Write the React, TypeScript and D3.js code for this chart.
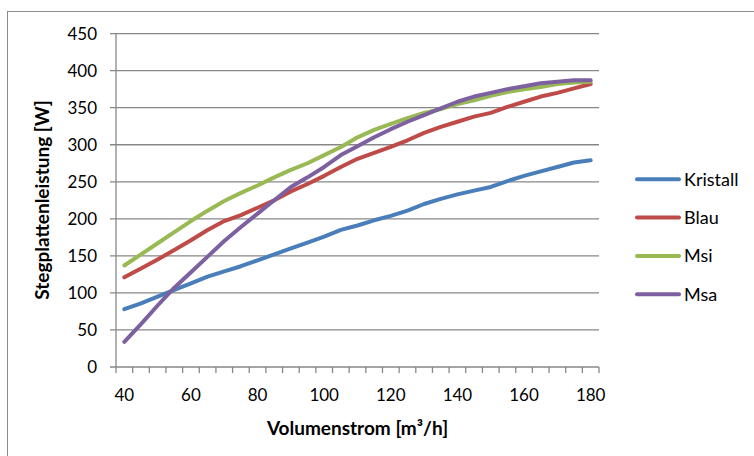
import React from "react";
import * as d3 from "d3";

const categories = [40,45,50,55,60,65,70,75,80,85,90,95,100,105,110,115,120,125,130,135,140,145,150,155,160,165,170,175,180];
const kristall = [78,86,95,104,113,122,129,136,144,152,160,168,176,185,191,198,204,211,220,227,233,238,243,251,258,264,270,276,279];
const blau = [121,133,145,158,171,185,197,205,215,225,237,247,258,270,281,289,297,306,316,324,331,338,343,351,358,365,370,376,382];
const msi = [137,152,167,182,197,211,224,235,245,256,266,275,286,297,310,320,328,336,343,348,355,360,366,371,375,378,382,384,385];
const msa = [34,58,83,107,128,149,170,189,207,225,243,256,270,286,298,310,321,331,340,349,358,365,370,375,379,383,385,387,387];
const yTicks = [0,50,100,150,200,250,300,350,400,450];
const xLabels = [40,60,80,100,120,140,160,180];
const seriesNames = ["Kristall","Blau","Msi","Msa"];
const seriesColors = ["#4A7EBB","#BE4B48","#98B954","#7D60A0"];
const seriesData = [kristall, blau, msi, msa];

const W = 754, H = 456;
const FONT = "Lato, 'Open Sans', sans-serif";

export default function App() {
  const x = d3.scaleBand<number>().domain(categories).range([116, 599]).paddingInner(0).paddingOuter(0);
  const y = d3.scaleLinear().domain([0, 450]).range([367, 33.6]);
  const cx = (c: number) => (x(c) as number) + x.bandwidth() / 2;
  const line = d3.line<number>().x((_, i) => cx(categories[i])).y((v) => y(v));
  const grid = "#878787";
  const boundaries = categories.map((c) => x(c) as number).concat([599]);
  return (
    <svg width={W} height={H} style={{ position: "absolute", left: 0, top: 0, display: "block", background: "#fff" }}>
      <rect x={7.5} y={11.5} width={W + 20} height={H + 20} fill="#fff" stroke="#8c8c8c" strokeWidth={1} />
      {yTicks.map((t) => (
        <g key={t}>
          <line x1={110} x2={599} y1={y(t)} y2={y(t)} stroke={grid} strokeWidth={1.3} />
          <text x={97} y={y(t)} dy="0.35em" textAnchor="end" fontFamily={FONT} fontSize={17} fill="#000">{t}</text>
        </g>
      ))}
      <line x1={116} x2={116} y1={y(450)} y2={y(0)} stroke={grid} strokeWidth={1.3} />
      {boundaries.map((b, i) => (
        <line key={i} x1={b} x2={b} y1={y(0)} y2={y(0) + 6} stroke={grid} strokeWidth={1.3} />
      ))}
      {xLabels.map((c) => (
        <text key={c} x={cx(c)} y={395} dy="0.35em" textAnchor="middle" fontFamily={FONT} fontSize={17} fill="#000">{c}</text>
      ))}
      {seriesData.map((s, i) => (
        <path key={i} d={line(s) || ""} fill="none" stroke={seriesColors[i]} strokeWidth={4} strokeLinecap="round" strokeLinejoin="round" />
      ))}
      <text x={357.5} y={428} dy="0.35em" textAnchor="middle" fontFamily={FONT} fontSize={19} fontWeight="bold" fill="#000">Volumenstrom [m³/h]</text>
      <text transform={`translate(42,200) rotate(-90)`} textAnchor="middle" dy="0.35em" fontFamily={FONT} fontSize={19} fontWeight="bold" fill="#000">Stegplattenleistung [W]</text>
      {seriesNames.map((n, i) => {
        const ly = 179.3 + i * 38.3;
        return (
          <g key={n}>
            <line x1={637} x2={679} y1={ly} y2={ly} stroke={seriesColors[i]} strokeWidth={4} strokeLinecap="round" />
            <text x={684} y={ly} dy="0.35em" fontFamily={FONT} fontSize={18} fill="#000">{n}</text>
          </g>
        );
      })}
    </svg>
  );
}
